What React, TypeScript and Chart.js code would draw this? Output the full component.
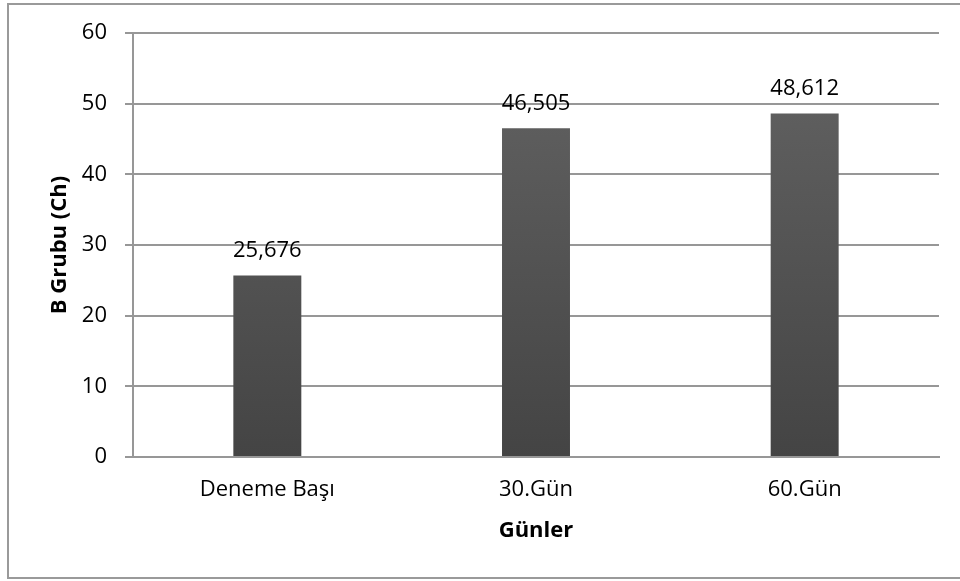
import React, { useEffect, useRef } from "react";
import { Chart, registerables } from "chart.js";

Chart.register(...registerables);

const categories: string[] = ["Deneme Başı", "30.Gün", "60.Gün"];
const values: number[] = [25.676, 46.505, 48.612];
const valueLabels: string[] = ["25,676", "46,505", "48,612"];
const yTicks: number[] = [0, 10, 20, 30, 40, 50, 60];
const yTitle = "B Grubu (Ch)";
const xTitle = "Günler";

const FONT = "'Open Sans', sans-serif";
const GRID = "#979797";

const borderPlugin = {
  id: "outerBorder",
  beforeDraw(chart: any) {
    const { ctx } = chart;
    ctx.save();
    ctx.fillStyle = "#ffffff";
    ctx.fillRect(0, 0, chart.width, chart.height);
    ctx.strokeStyle = "#9a9a9a";
    ctx.lineWidth = 2;
    ctx.strokeRect(8, 4, chart.width + 10, 574);
    ctx.restore();
  },
};

const labelPlugin = {
  id: "valueLabels",
  afterDatasetsDraw(chart: any) {
    const { ctx } = chart;
    const meta = chart.getDatasetMeta(0);
    ctx.save();
    ctx.font = `22px ${FONT}`;
    ctx.fillStyle = "#000000";
    ctx.textAlign = "center";
    ctx.textBaseline = "middle";
    meta.data.forEach((bar: any, i: number) => {
      ctx.fillText(valueLabels[i], bar.x, bar.y - 25);
    });
    ctx.restore();
  },
};

export default function App() {
  const ref = useRef<HTMLCanvasElement | null>(null);

  useEffect(() => {
    if (!ref.current) return;
    const chart = new Chart(ref.current, {
      type: "bar",
      data: {
        labels: categories,
        datasets: [
          {
            data: values,
            backgroundColor: (c: any) => {
              const area = c.chart.chartArea;
              if (!area) return "#555555";
              const g = c.chart.ctx.createLinearGradient(0, area.top, 0, area.bottom);
              g.addColorStop(0, "#646464");
              g.addColorStop(1, "#444444");
              return g;
            },
            borderWidth: 0,
            categoryPercentage: 1,
            barPercentage: 0.253,
          },
        ],
      },
      options: {
        responsive: false,
        animation: false,
        devicePixelRatio: 1,
        layout: { padding: { left: 7, right: 21, top: 33, bottom: 0 } },
        plugins: {
          legend: { display: false },
          tooltip: { enabled: false },
        },
        scales: {
          x: {
            grid: { display: false, drawTicks: false, tickLength: 0 },
            border: { display: true, color: GRID, width: 2 },
            ticks: {
              padding: 20,
              color: "#000000",
              font: { family: FONT, size: 22 },
            },
            title: {
              display: true,
              text: xTitle,
              color: "#000000",
              font: { family: FONT, size: 22, weight: "bold" },
              padding: { top: 0, bottom: 37 },
            },
            afterFit: (s: any) => {
              s.height = 124;
            },
          },
          y: {
            min: 0,
            max: 60,
            afterBuildTicks: (s: any) => {
              s.ticks = yTicks.map((v) => ({ value: v }));
            },
            grid: { color: GRID, lineWidth: 2, drawTicks: true, tickLength: 8 },
            border: { display: true, color: GRID, width: 2 },
            ticks: {
              padding: 18,
              color: "#000000",
              font: { family: FONT, size: 22 },
            },
            title: {
              display: true,
              text: yTitle,
              color: "#000000",
              font: { family: FONT, size: 22, weight: "bold" },
              padding: { top: 40, bottom: 0 },
            },
            afterFit: (s: any) => {
              s.width = 126;
            },
          },
        },
      },
      plugins: [borderPlugin, labelPlugin],
    });
    return () => chart.destroy();
  }, []);

  return (
    <div style={{ position: "absolute", left: 0, top: 0, width: 960, height: 581 }}>
      <canvas ref={ref} width={960} height={581} style={{ display: "block", width: 960, height: 581 }} />
    </div>
  );
}
